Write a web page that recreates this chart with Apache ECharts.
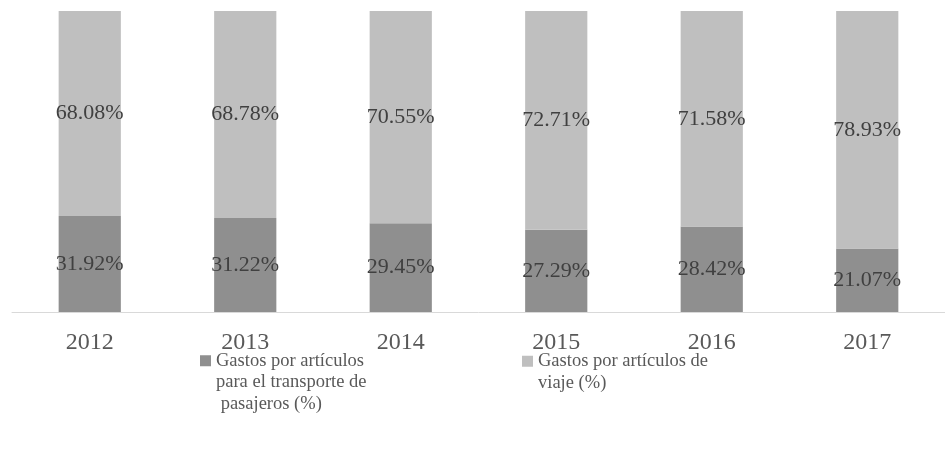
<!DOCTYPE html>
<html>
<head>
<meta charset="utf-8">
<script src="https://cdn.jsdelivr.net/npm/echarts@6/dist/echarts.min.js"></script>
<style>
html, body { margin: 0; padding: 0; background: #fff; }
#chart { width: 945px; height: 449px; }
</style>
</head>
<body>
<div id="chart"></div>
<script>
// años y porcentajes
var years = ['2012', '2013', '2014', '2015', '2016', '2017'];
var transporte = [31.92, 31.22, 29.45, 27.29, 28.42, 21.07];
var viaje = [68.08, 68.78, 70.55, 72.71, 71.58, 78.93];
var nombreTransporte = 'Gastos por artículos\npara el transporte de\n pasajeros (%)';
var nombreViaje = 'Gastos por artículos de\nviaje (%)';

var fuente = '"Liberation Serif", "DejaVu Serif", serif';

var myChart = echarts.init(document.getElementById('chart'));

var etiqueta = {
    show: true,
    position: 'inside',
    fontFamily: fuente,
    fontSize: 22,
    color: '#404040',
    formatter: function (p) { return p.value.toFixed(2) + '%'; }
};

// el icono de la leyenda queda en la linea central: se anteponen lineas vacias
// para que quede a la altura de la primera linea
function alinearArriba(name) {
    var n = name.split('\n').length;
    return new Array(n).join('\n') + name;
}

var textoLeyenda = { fontFamily: fuente, fontSize: 18.5, color: '#595959', lineHeight: 21.5 };

var option = {
    animation: false,
    grid: { left: 12, right: 0, top: 11, bottom: 137 },
    xAxis: {
        type: 'category',
        data: years,
        axisLine: { lineStyle: { color: '#d9d9d9', width: 1 } },
        axisTick: { show: false },
        axisLabel: { fontFamily: fuente, fontSize: 24, color: '#595959', margin: 19 }
    },
    yAxis: {
        type: 'value',
        min: 0,
        max: 100,
        show: false,
        splitLine: { show: false }
    },
    legend: [
        {
            data: [nombreTransporte],
            left: 200,
            top: 307,
            padding: 0,
            icon: 'rect',
            itemWidth: 11,
            itemHeight: 11,
            formatter: alinearArriba,
            textStyle: textoLeyenda
        },
        {
            data: [nombreViaje],
            left: 522,
            top: 329,
            padding: 0,
            icon: 'rect',
            itemWidth: 11,
            itemHeight: 11,
            formatter: alinearArriba,
            textStyle: textoLeyenda
        }
    ],
    series: [
        {
            name: nombreTransporte,
            type: 'bar',
            stack: 'total',
            barWidth: '40%',
            data: transporte,
            itemStyle: { color: '#8f8f8f' },
            label: etiqueta
        },
        {
            name: nombreViaje,
            type: 'bar',
            stack: 'total',
            barWidth: '40%',
            data: viaje,
            itemStyle: { color: '#bfbfbf' },
            label: etiqueta
        }
    ]
};

myChart.setOption(option);
window.addEventListener('resize', function () {
    myChart.resize();
});
</script>
</body>
</html>
